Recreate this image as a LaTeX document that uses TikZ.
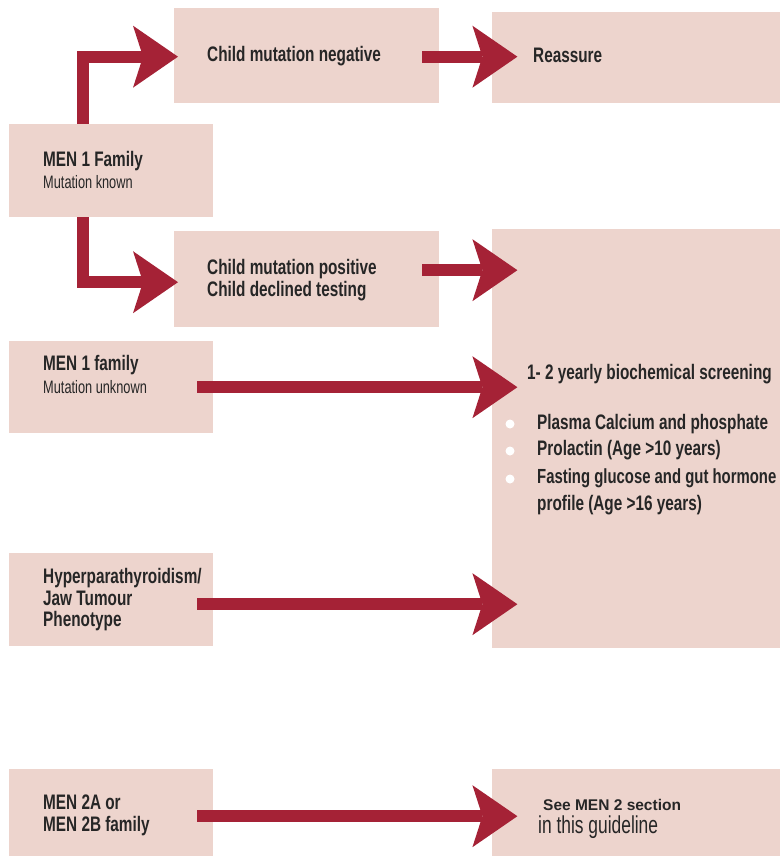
\documentclass[tikz,border=0pt]{standalone}
\usepackage{fontspec}
\setmainfont{Liberation Sans}
\newfontfamily\headfont[FakeStretch=0.73]{Liberation Sans Bold}
\newfontfamily\bodyfont[FakeStretch=0.71]{Liberation Sans}
\newfontfamily\seefont{Liberation Sans Bold}
\usetikzlibrary{arrows.meta}

\begin{document}
\begin{tikzpicture}[
  x=1pt,y=-1pt,
  panel/.style={rectangle,fill=panelPink,inner sep=0pt,anchor=north west},
  flow/.style={draw=flowRed,line width=12pt,line join=miter,
               -{Stealth[length=45pt,width=62pt,inset=10pt,line width=0pt]}},
  head/.style={anchor=base west,inner sep=0pt,text=inkGrey,
               font=\headfont\fontsize{21}{24}\selectfont},
  body/.style={anchor=base west,inner sep=0pt,text=inkGrey,
               font=\bodyfont\fontsize{18}{21}\selectfont},
  dot/.style={circle,fill=white,minimum size=9pt,inner sep=0pt},
]
\definecolor{panelPink}{HTML}{EDD4CD}
\definecolor{flowRed}{HTML}{A52236}
\definecolor{inkGrey}{HTML}{262626}

\useasboundingbox (0,0) rectangle (780,856);

% Pale panels, one per step of the pathway.
\foreach \name/\x/\y/\w/\h in {neg/174/8/265pt/95pt,reassure/492/12/288pt/91pt,
  menk/9/124/204pt/93pt,pos/174/231/265pt/96pt,screen/492/229/288pt/419pt,
  menu/9/341/204pt/92pt,hpt/9/553/204pt/93pt,
  men2/9/769/204pt/87pt,see/492/769/288pt/87pt}
  \node[panel,minimum width=\w,minimum height=\h] (\name) at (\x,\y) {};

% Panel texts, set on their baselines.
\foreach \x/\y/\name/\txt in {207/62/negA/Child mutation negative,
  533/63/reassureA/Reassure,43/166/menkA/MEN 1 Family,
  207/274/posA/Child mutation positive,207/296/posB/Child declined testing,
  43/370/menuA/MEN 1 family,527/379/screenA/1- 2 yearly biochemical screening,
  537/429/screenB/Plasma Calcium and phosphate,
  537/455/screenC/Prolactin (Age >10 years),
  537/510/screenE/profile (Age >16 years),
  43/583/hptA/{Hyperparathyroidism/},43/605/hptB/Jaw Tumour,
  43/626/hptC/Phenotype,43/809/men2A/MEN 2A or,43/831/men2B/MEN 2B family}
  \node[head] (\name) at (\x,\y) {\txt};
\node[head,font=\headfont\fontsize{20.4}{24}\selectfont] (screenD) at (537,483)
  {Fasting glucose and gut hormone};
\node[body] (menkB) at (43,188) {Mutation known};
\node[body] (menuB) at (43,393) {Mutation unknown};
\node[head,font=\seefont\fontsize{15.5}{18}\selectfont] (seeA) at (543,810)
  {See MEN 2 section};
\node[body,font=\bodyfont\fontsize{24.5}{27}\selectfont] (seeB) at (538,833)
  {in this guideline};

\foreach \n/\y in {dotA/424,dotB/451,dotC/479}
  \node[dot] (\n) at (510,\y) {};

% Thick arrows between the panels.
\draw[flow] ([xshift=-28pt]menk.north) |- ([xshift=4pt,yshift=-1pt]neg.west);
\draw[flow] ([xshift=-28pt]menk.south) |- ([xshift=4pt,yshift=-3pt]pos.west);
\draw[flow] ([xshift=-17pt,yshift=-1pt]neg.east) -- +(95,0);
\draw[flow] ([xshift=-17pt,yshift=9pt]pos.east) -- +(95,0);
\draw[flow] ([xshift=-16pt]menu.east) -- +(320,0);
\draw[flow] ([xshift=-16pt,yshift=-4.5pt]hpt.east) -- +(320,0);
\draw[flow] ([xshift=-16pt,yshift=-3.5pt]men2.east) -- +(320,0);
\end{tikzpicture}
\end{document}
